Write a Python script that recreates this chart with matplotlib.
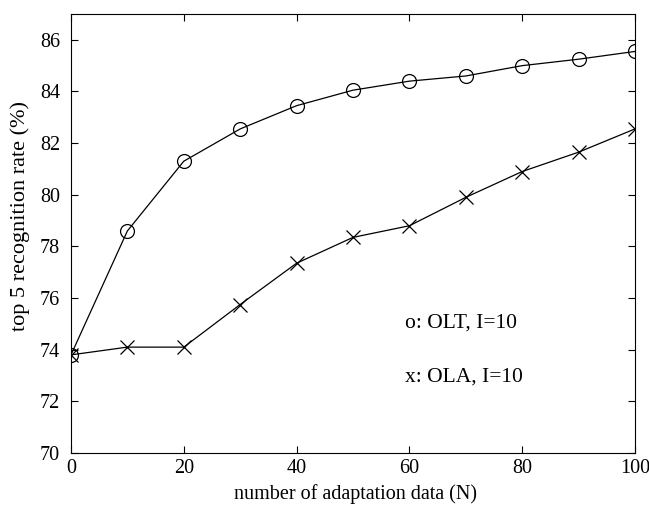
import matplotlib
matplotlib.use("Agg")
import matplotlib.pyplot as plt

n_data = [0, 10, 20, 30, 40, 50, 60, 70, 80, 90, 100]
olt = [73.8, 78.6, 81.3, 82.55, 83.45, 84.05, 84.4, 84.6, 85.0, 85.25, 85.55]
ola = [73.8, 74.1, 74.1, 75.75, 77.35, 78.35, 78.8, 79.9, 80.9, 81.65, 82.55]

x_ticks = [0, 20, 40, 60, 80, 100]
y_ticks = [70, 72, 74, 76, 78, 80, 82, 84, 86]

plt.rcParams["font.family"] = ["Liberation Serif", "DejaVu Serif"]

fig = plt.figure(figsize=(6.49, 5.08), dpi=100)
ax = fig.add_axes([71 / 649, 1 - 453 / 508, 564 / 649, 439 / 508])

ax.plot(n_data, olt, color="black", lw=0.9, marker="o", ms=10,
        mfc="none", mec="black", mew=0.9)
ax.plot(n_data, ola, color="black", lw=0.9, marker="x", ms=10,
        mec="black", mew=0.9)

ax.text(59.2, 75.03, "o: OLT, I=10", fontsize=15.5, va="center", ha="left")
ax.text(59.2, 72.94, "x: OLA, I=10", fontsize=15.5, va="center", ha="left")

ax.set_xlim(0, 100)
ax.set_ylim(70, 87)
ax.set_xticks(x_ticks)
ax.set_yticks(y_ticks)
ax.tick_params(direction="in", top=True, right=True, length=5, width=0.8,
               labelsize=14.5)
ax.tick_params(axis="x", pad=4)
ax.tick_params(axis="y", pad=8)
for s in ax.spines.values():
    s.set_linewidth(0.8)

ax.set_xlabel("number of adaptation data (N)", fontsize=14.5, va="center")
ax.set_ylabel("top 5 recognition rate (%)", fontsize=16, va="center")
ax.xaxis.set_label_coords(0.505, -0.093)
ax.yaxis.set_label_coords(-0.09, 0.54)

fig.savefig("out.png", dpi=100)
